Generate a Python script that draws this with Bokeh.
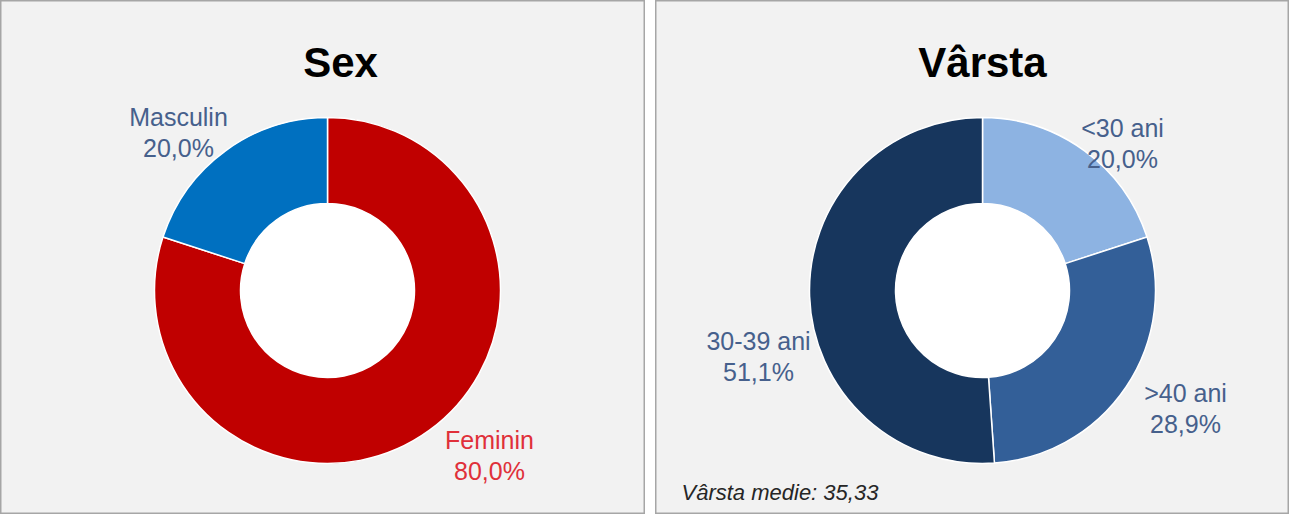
from bokeh.plotting import figure
from bokeh.layouts import row
from bokeh.models import Range1d, ColumnDataSource
from bokeh.embed import file_html
from bokeh.resources import INLINE
from bokeh.core.properties import value

# ---- data ----
sex_labels = ["Feminin", "Masculin"]
sex_values = [80.0, 20.0]
sex_colors = ["#c00000", "#0070c0"]
sex_text_colors = ["#e0303a", "#46608c"]

age_labels = ["<30 ani", ">40 ani", "30-39 ani"]
age_values = [20.0, 28.9, 51.1]
age_colors = ["#8db3e2", "#335f98", "#17365d"]
age_text_colors = ["#46608c", "#46608c", "#46608c"]

mean_age = 35.33

# ---- layout (label anchors relative to donut centre, px) ----
sex_label_pos = [(162, -149), (-149, 174)]
age_label_pos = [(140, 163), (203, -102), (-224, -50)]
LINE_GAP = 31
R_OUT, R_IN = 173, 87
FONT = "Liberation Sans"
H = 514


def fmt(v):
    return f"{v:.1f}".replace(".", ",") + "%"


def panel(width, xr, title, labels, values, colors, tcolors, pos, title_x):
    p = figure(width=width, height=H, x_range=Range1d(*xr), y_range=Range1d(-224, 290),
               output_backend="svg", toolbar_location=None, min_border=0)
    p.axis.visible = False
    p.grid.visible = False
    p.background_fill_color = "#f2f2f2"
    p.border_fill_color = "#f2f2f2"
    p.outline_line_color = "#a6a6a6"
    p.outline_line_width = 2

    total = sum(values)
    cum = 0.0
    starts, ends = [], []
    for v in values:
        a0 = 90 - (cum + v) / total * 360
        a1 = 90 - cum / total * 360
        starts.append(a0)
        ends.append(a1)
        cum += v
    src = ColumnDataSource(dict(start=starts, end=ends, color=colors))
    p.annular_wedge(x=0, y=0, inner_radius=R_IN, outer_radius=R_OUT,
                    start_angle="start", end_angle="end", start_angle_units="deg",
                    end_angle_units="deg", direction="anticlock",
                    fill_color="color", line_color="white", line_width=1.5, source=src)
    p.circle(x=0, y=0, radius=R_IN, fill_color="white", line_color=None)

    lsrc = ColumnDataSource(dict(
        x=[q[0] for q in pos], y=[q[1] for q in pos],
        y2=[q[1] - LINE_GAP for q in pos],
        name=labels, pct=[fmt(v) for v in values], c=tcolors))
    p.text(x="x", y="y", text="name", text_color="c", source=lsrc,
           text_font=value(FONT), text_font_size="25px", text_align="center",
           text_baseline="alphabetic")
    p.text(x="x", y="y2", text="pct", text_color="c", source=lsrc,
           text_font=value(FONT), text_font_size="25px", text_align="center",
           text_baseline="alphabetic")
    p.text(x=[title_x], y=[228], text=[title], text_font=value(FONT),
           text_font_size="42px", text_font_style="bold", text_color="black",
           text_align="center", text_baseline="alphabetic")
    return p


p1 = panel(645, (-327, 318), "Sex", sex_labels, sex_values, sex_colors,
           sex_text_colors, sex_label_pos, 13)
p2 = panel(634, (-327, 307), "Vârsta", age_labels, age_values, age_colors,
           age_text_colors, age_label_pos, 0)
p2.text(x=[-301], y=[-202], text=["Vârsta medie: " + f"{mean_age:.2f}".replace(".", ",")],
        text_font=value(FONT), text_font_size="22px", text_font_style="italic",
        text_color="#262626", text_align="left", text_baseline="alphabetic")

layout = row(p1, p2, spacing=10)
open("out.html", "w").write(file_html(layout, INLINE))
